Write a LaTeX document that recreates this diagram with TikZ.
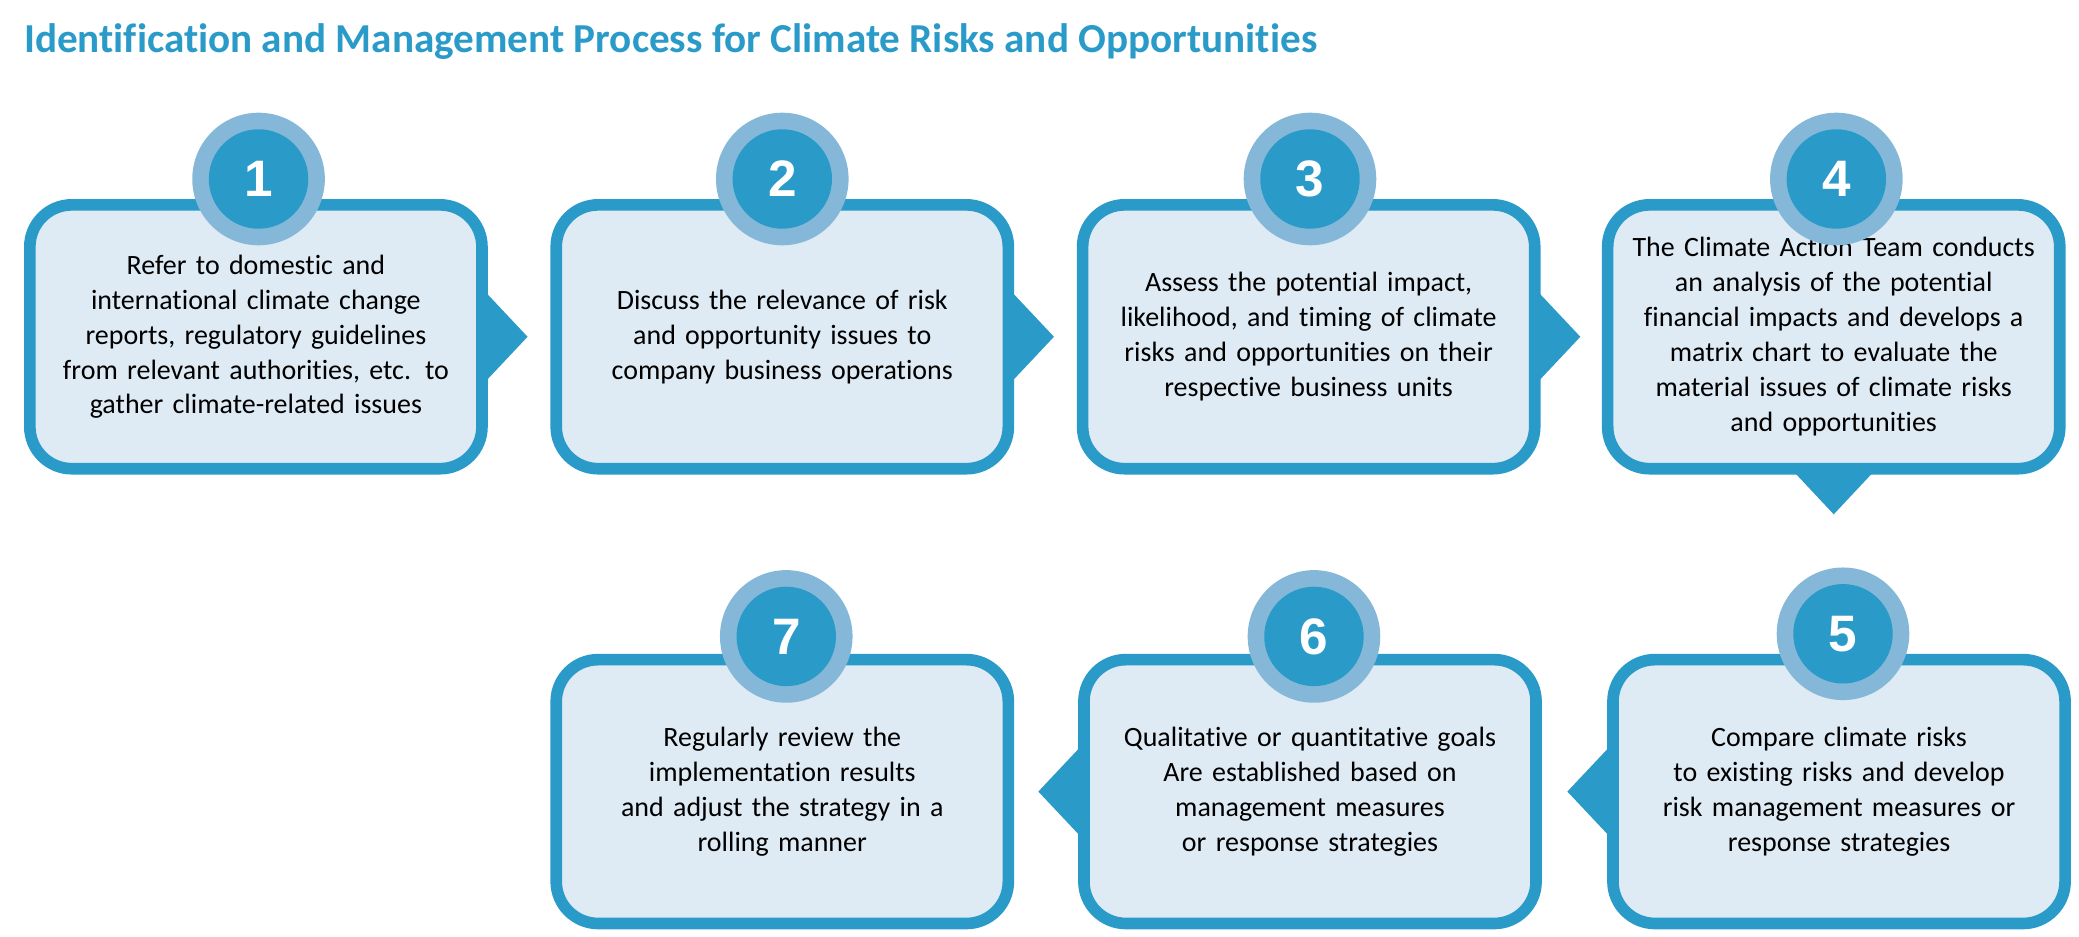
\documentclass[tikz,border=0pt]{standalone}
\usepackage{fontspec}
\setmainfont{Carlito}[Ligatures=NoCommon]
\newfontfamily\numfont{Liberation Sans}
\usetikzlibrary{calc}
\definecolor{dblue}{HTML}{2A9BC8}
\definecolor{lblue}{HTML}{85B8D8}
\definecolor{boxfill}{HTML}{DEEAF4}
\begin{document}
\begin{tikzpicture}[x=0.03cm,y=-0.03cm,
  stepbox/.style={draw=dblue,line width=7.5pt,fill=boxfill,rounded corners=0.95cm,
    minimum width=341*0.03cm,minimum height=199*0.03cm,text width=9.6cm,align=center,
    font=\fontsize{18}{22.5}\selectfont,inner sep=0pt},
  outerc/.style={circle,fill=lblue,minimum size=3cm,inner sep=0pt},
  innerc/.style={circle,fill=dblue,minimum size=2.25cm,inner sep=0pt,text=white,
    font=\numfont\fontsize{33}{33}\selectfont\bfseries},
  tri/.style={fill=dblue}]
\useasboundingbox (0,0) rectangle (1568,706);
\node[anchor=west,text=dblue,font=\fontsize{26.5}{28}\selectfont\bfseries] (title) at (14,31)
  {Identification and Management Process for Climate Risks and Opportunities};
% row 1
\node[stepbox] (b1) at (193,254) {Refer to domestic and\\international climate change\\reports, regulatory guidelines\\from relevant authorities, etc. to\\gather climate-related issues};
\node[stepbox] (b2) at (590,254) {Discuss the relevance of risk\\and opportunity issues to\\company business operations};
\node[stepbox] (b3) at (987,254) {Assess the potential impact,\\likelihood, and timing of climate\\risks and opportunities on their\\respective business units};
\node[stepbox] (b4) at (1383,254) {The Climate Action Team conducts\\an analysis of the potential\\financial impacts and develops a\\matrix chart to evaluate the\\material issues of climate risks\\and opportunities};
% row 2
\node[stepbox] (b5) at (1387,597) {Compare climate risks\\to existing risks and develop\\risk management measures or\\response strategies};
\node[stepbox] (b6) at (988,597) {Qualitative or quantitative goals\\Are established based on\\management measures\\or response strategies};
\node[stepbox] (b7) at (590,597) {Regularly review the\\implementation results\\and adjust the strategy in a\\rolling manner};
% circles
\foreach \n/\x/\y in {1/195/135,2/590/135,3/988/135,4/1385/135,5/1390/478,6/991/480,7/593/480}{
  \node[outerc] (o\n) at (\x,\y) {};
  \node[innerc] (c\n) at (\x,\y) {\n};
}
% connectors (triangles)
\foreach \a in {b1,b2,b3}{
  \fill[tri] ($(\a.east)+(-2,-34)$) -- ++(32,34) -- ++(-32,34) -- cycle;
}
\fill[tri] ($(b4.south)+(-30,-2)$) -- ++(30,32) -- ++(30,-32) -- cycle;
\foreach \a in {b5,b6}{
  \fill[tri] ($(\a.west)+(2,-34)$) -- ++(-32,34) -- ++(32,34) -- cycle;
}
\end{tikzpicture}
\end{document}
